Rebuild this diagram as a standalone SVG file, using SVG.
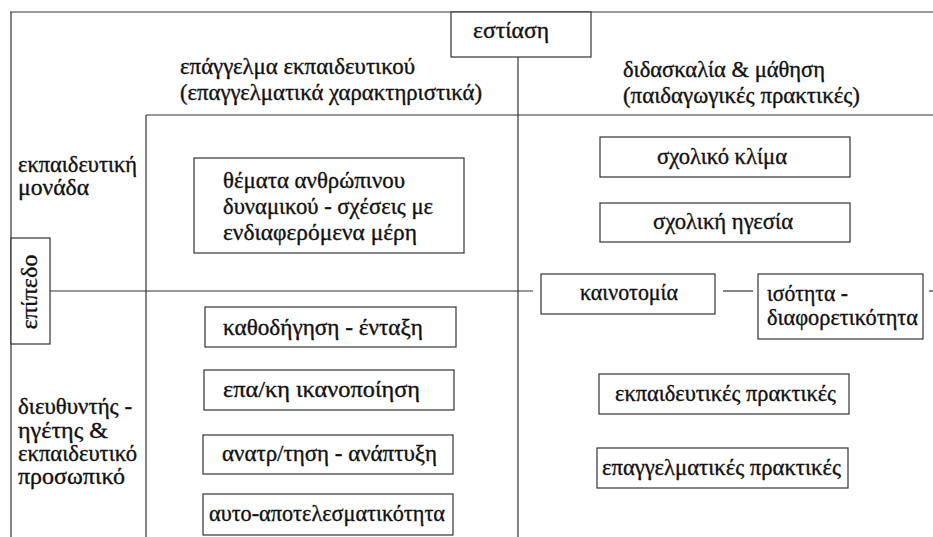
<svg xmlns="http://www.w3.org/2000/svg" width="933" height="537" viewBox="0 0 933 537">
<style>
  .ln { stroke: #333; stroke-width: 1.2; fill: none; }
  .bx { stroke: #333; stroke-width: 1.2; fill: #fff; }
  .t { font-family: "Liberation Serif", "DejaVu Serif", serif; font-size: 23px; fill: #111; stroke: #111; stroke-width: 0.35; }
</style>
<rect width="933" height="537" fill="#fff"/>
<g id="connectors">
  <line class="ln" x1="10" y1="12" x2="933" y2="12"/>
  <line class="ln" x1="11" y1="12" x2="11" y2="537"/>
  <line class="ln" x1="518" y1="57" x2="518" y2="537"/>
  <line class="ln" x1="146" y1="115" x2="933" y2="115"/>
  <line class="ln" x1="146" y1="115" x2="146" y2="537"/>
  <line class="ln" x1="50" y1="291" x2="533" y2="291"/>
  <line class="ln" x1="723" y1="291" x2="753" y2="291"/>
  <line class="ln" x1="929" y1="291" x2="933" y2="291"/>
</g>
<g id="node-estiasi">
  <rect class="bx" x="451" y="12" width="140" height="45"/>
  <text class="t" x="473" y="38" textLength="76" lengthAdjust="spacingAndGlyphs">εστίαση</text>
</g>
<g id="header-left">
  <text class="t" x="180" y="74" textLength="235" lengthAdjust="spacingAndGlyphs">επάγγελμα εκπαιδευτικού</text>
  <text class="t" x="180" y="100" textLength="302" lengthAdjust="spacingAndGlyphs">(επαγγελματικά χαρακτηριστικά)</text>
</g>
<g id="header-right">
  <text class="t" x="623" y="77" textLength="202" lengthAdjust="spacingAndGlyphs">διδασκαλία &amp; μάθηση</text>
  <text class="t" x="623" y="103" textLength="237" lengthAdjust="spacingAndGlyphs">(παιδαγωγικές πρακτικές)</text>
</g>
<g id="label-monada">
  <text class="t" x="18" y="172" textLength="119" lengthAdjust="spacingAndGlyphs">εκπαιδευτική</text>
  <text class="t" x="18" y="195" textLength="71" lengthAdjust="spacingAndGlyphs">μονάδα</text>
</g>
<g id="node-epipedo">
  <rect class="bx" x="11" y="238" width="39" height="106"/>
  <text class="t" x="0" y="0" text-anchor="middle" textLength="75" lengthAdjust="spacingAndGlyphs" transform="translate(37 292) rotate(-90)">επίπεδο</text>
</g>
<g id="label-proswpiko">
  <text class="t" x="18" y="414" textLength="114" lengthAdjust="spacingAndGlyphs">διευθυντής -</text>
  <text class="t" x="18" y="438" textLength="90" lengthAdjust="spacingAndGlyphs">ηγέτης &amp;</text>
  <text class="t" x="18" y="461" textLength="119" lengthAdjust="spacingAndGlyphs">εκπαιδευτικό</text>
  <text class="t" x="18" y="484" textLength="107" lengthAdjust="spacingAndGlyphs">προσωπικό</text>
</g>
<g id="node-themata">
  <rect class="bx" x="194" y="158" width="270" height="95"/>
  <text class="t" x="223" y="188" textLength="182" lengthAdjust="spacingAndGlyphs">θέματα ανθρώπινου</text>
  <text class="t" x="223" y="214" textLength="210" lengthAdjust="spacingAndGlyphs">δυναμικού - σχέσεις με</text>
  <text class="t" x="223" y="240" textLength="194" lengthAdjust="spacingAndGlyphs">ενδιαφερόμενα μέρη</text>
</g>
<g id="node-kathodigisi">
  <rect class="bx" x="205" y="307" width="251" height="40"/>
  <text class="t" x="223" y="335" textLength="200" lengthAdjust="spacingAndGlyphs">καθοδήγηση - ένταξη</text>
</g>
<g id="node-ikanopoiisi">
  <rect class="bx" x="204" y="370" width="250" height="40"/>
  <text class="t" x="223" y="397" textLength="197" lengthAdjust="spacingAndGlyphs">επα/κη ικανοποίηση</text>
</g>
<g id="node-anatrofodotisi">
  <rect class="bx" x="203" y="435" width="250" height="39"/>
  <text class="t" x="222" y="461" textLength="215" lengthAdjust="spacingAndGlyphs">ανατρ/τηση - ανάπτυξη</text>
</g>
<g id="node-aftoapotelesmatikotita">
  <rect class="bx" x="203" y="494" width="250" height="41"/>
  <text class="t" x="209" y="521" textLength="236" lengthAdjust="spacingAndGlyphs">αυτο-αποτελεσματικότητα</text>
</g>
<g id="node-klima">
  <rect class="bx" x="600" y="137" width="250" height="40"/>
  <text class="t" x="657" y="164" textLength="130" lengthAdjust="spacingAndGlyphs">σχολικό κλίμα</text>
</g>
<g id="node-igesia">
  <rect class="bx" x="600" y="203" width="250" height="39"/>
  <text class="t" x="653" y="229" textLength="140" lengthAdjust="spacingAndGlyphs">σχολική ηγεσία</text>
</g>
<g id="node-kainotomia">
  <rect class="bx" x="541" y="274" width="174" height="40"/>
  <text class="t" x="580" y="300" textLength="98" lengthAdjust="spacingAndGlyphs">καινοτομία</text>
</g>
<g id="node-isotita">
  <rect class="bx" x="758" y="274" width="165" height="65"/>
  <text class="t" x="767" y="301" textLength="81" lengthAdjust="spacingAndGlyphs">ισότητα -</text>
  <text class="t" x="767" y="325" textLength="151" lengthAdjust="spacingAndGlyphs">διαφορετικότητα</text>
</g>
<g id="node-ekpaideftikes">
  <rect class="bx" x="599" y="374" width="250" height="40"/>
  <text class="t" x="615" y="401" textLength="221" lengthAdjust="spacingAndGlyphs">εκπαιδευτικές πρακτικές</text>
</g>
<g id="node-epaggelmatikes">
  <rect class="bx" x="597" y="448" width="251" height="40"/>
  <text class="t" x="602" y="475" textLength="239" lengthAdjust="spacingAndGlyphs">επαγγελματικές πρακτικές</text>
</g>
</svg>
